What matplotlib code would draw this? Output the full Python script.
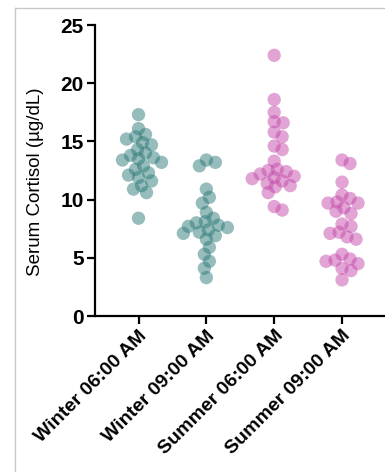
import numpy as np
import matplotlib.pyplot as plt
from matplotlib.lines import Line2D

groups = ["Winter 06:00 AM", "Winter 09:00 AM", "Summer 06:00 AM", "Summer 09:00 AM"]

winter_06 = [17.3, 16.1, 15.6, 15.4, 15.2, 14.9, 14.7, 14.3, 14.0, 13.8, 13.6, 13.5,
             13.4, 13.2, 12.9, 12.6, 12.3, 12.1, 11.9, 11.6, 11.2, 10.9, 10.6, 8.4]
winter_09 = [13.4, 13.2, 12.9, 10.9, 10.2, 9.7, 8.9, 8.4, 8.1, 8.0, 7.8, 7.7, 7.6,
             7.4, 7.2, 7.1, 6.9, 6.6, 5.9, 5.3, 4.7, 4.1, 3.3]
summer_06 = [22.4, 18.6, 17.5, 16.7, 16.6, 15.8, 15.4, 14.6, 14.3, 13.3, 12.6, 12.5,
             12.4, 12.2, 12.0, 11.9, 11.8, 11.6, 11.4, 11.2, 11.1, 10.6, 9.4, 9.1]
summer_09 = [13.4, 13.1, 11.5, 10.4, 10.1, 9.8, 9.7, 9.7, 9.3, 9.0, 8.8, 7.9, 7.7,
             7.2, 7.1, 6.8, 6.6, 5.3, 4.9, 4.8, 4.7, 4.5, 4.1, 3.9, 3.1]

data = [winter_06, winter_09, summer_06, summer_09]
colors = ["#2e7b79", "#2e7b79", "#c44aab", "#c44aab"]

fig = plt.figure(figsize=(3.85, 4.72), dpi=100)
ax = fig.add_axes([0.247, 0.3305, 0.80, 0.6165])

ax.set_xlim(-0.64, 3.9)
ax.set_ylim(0, 25)

# simple beeswarm in pixel space
px_x = fig.get_figwidth() * fig.dpi * 0.80 / (3.9 + 0.64)
px_y = fig.get_figheight() * fig.dpi * 0.6165 / 25
diam = 8.5

for i, vals in enumerate(data):
    vals = np.sort(np.array(vals))[::-1]
    placed = []
    xs = []
    for v in vals:
        yp = v * px_y
        best = None
        for k in range(0, 40):
            for sgn in ([0] if k == 0 else [1, -1]):
                off = sgn * k * 1.0
                ok = all((off - px) ** 2 + (yp - py) ** 2 >= diam ** 2 for px, py in placed)
                if ok:
                    best = off
                    break
            if best is not None:
                break
        placed.append((best, yp))
        xs.append(i + best / px_x)
    ax.scatter(xs, vals, s=92, color=colors[i], alpha=0.5, edgecolors="none", zorder=3)

for s in ["top", "right"]:
    ax.spines[s].set_visible(False)
ax.spines["left"].set_linewidth(1.6)
ax.spines["bottom"].set_linewidth(1.6)

ax.set_yticks([0, 5, 10, 15, 20, 25])
ax.set_xticks(range(4))
ax.set_xticklabels(groups, rotation=45, ha="right", rotation_mode="anchor",
                   fontsize=14, fontweight="bold", family="Liberation Sans")
for lab in ax.get_yticklabels():
    lab.set_fontsize(15)
    lab.set_fontweight("bold")
    lab.set_family("Liberation Sans")
ax.tick_params(axis="both", length=6, width=1.6, direction="out", pad=2)
ax.set_ylabel("Serum Cortisol (\u00b5g/dL)", fontsize=13.5, family="Liberation Sans")
ax.yaxis.set_label_coords(-0.165, 0.46)

# screenshot frame
fig.add_artist(Line2D([15 / 385, 15 / 385], [0, 1 - 8 / 472], color="#c8c8c8", lw=1,
                      transform=fig.transFigure))
fig.add_artist(Line2D([15 / 385, 1], [1 - 8 / 472, 1 - 8 / 472], color="#c8c8c8", lw=1,
                      transform=fig.transFigure))

fig.savefig("out.png", dpi=100)
